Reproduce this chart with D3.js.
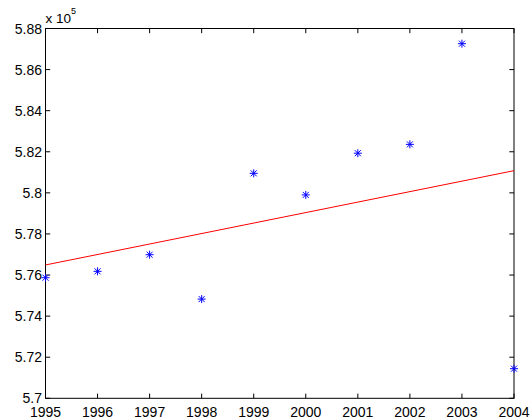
<!DOCTYPE html>
<html>
<head>
<meta charset="utf-8">
<script src="https://cdn.jsdelivr.net/npm/d3@7"></script>
<style>
  html, body { margin: 0; padding: 0; background: #fff; }
  svg { display: block; font-family: "Liberation Sans", Arial, Helvetica, sans-serif; }
</style>
</head>
<body>
<svg id="chart" width="531" height="419"></svg>
<script>
// ---- data ----
const years = [1995, 1996, 1997, 1998, 1999, 2000, 2001, 2002, 2003, 2004];
const values = [575870, 576180, 576990, 574830, 580950, 579900, 581930, 582360, 587260, 571440];
const trendYears = [1995, 2004];
const trendValues = [576490, 581080];
const xTicks = [1995, 1996, 1997, 1998, 1999, 2000, 2001, 2002, 2003, 2004];
const yTicks = [5.70, 5.72, 5.74, 5.76, 5.78, 5.80, 5.82, 5.84, 5.86, 5.88];
const yTickLabels = ["5.7", "5.72", "5.74", "5.76", "5.78", "5.8", "5.82", "5.84", "5.86", "5.88"];
const exponent = 5;

// ---- layout ----
const plotL = 45.5, plotR = 514, plotT = 28.5, plotB = 398.3;
const svg = d3.select("#chart");

const x = d3.scaleLinear().domain([1995, 2004]).range([plotL, plotR]);
const y = d3.scaleLinear().domain([5.70, 5.88]).range([plotB, plotT]);
const scale = Math.pow(10, exponent);

const tickLen = 4.7;

// box
svg.append("rect")
  .attr("x", plotL).attr("y", plotT)
  .attr("width", plotR - plotL).attr("height", plotB - plotT)
  .attr("fill", "none").attr("stroke", "#000").attr("stroke-width", 1);

// x ticks (bottom & top, inward)
const gx = svg.append("g");
xTicks.forEach(t => {
  const px = x(t);
  gx.append("line").attr("x1", px).attr("x2", px).attr("y1", plotB).attr("y2", plotB - tickLen).attr("stroke", "#000");
  gx.append("line").attr("x1", px).attr("x2", px).attr("y1", plotT).attr("y2", plotT + tickLen).attr("stroke", "#000");
  gx.append("text").attr("x", px).attr("y", 417).attr("text-anchor", "middle")
    .attr("font-size", 14).text(String(t));
});

// y ticks (left & right, inward)
const gy = svg.append("g");
yTicks.forEach((t, i) => {
  const py = y(t);
  gy.append("line").attr("x1", plotL).attr("x2", plotL + tickLen).attr("y1", py).attr("y2", py).attr("stroke", "#000");
  gy.append("line").attr("x1", plotR).attr("x2", plotR - tickLen).attr("y1", py).attr("y2", py).attr("stroke", "#000");
  gy.append("text").attr("x", plotL - 3.5).attr("y", py + 5).attr("text-anchor", "end")
    .attr("font-size", 14).text(yTickLabels[i]);
});

// exponent label
const ex = svg.append("text").attr("x", 45.5).attr("y", 22.7).attr("font-size", 13.5);
ex.append("tspan").text("x 10");
ex.append("tspan").attr("dy", -9).attr("font-size", 9).text(String(exponent));

// trend line
const line = d3.line().x(d => x(d[0])).y(d => y(d[1] / scale));
svg.append("path")
  .datum(trendYears.map((t, i) => [t, trendValues[i]]))
  .attr("d", line)
  .attr("fill", "none").attr("stroke", "#ff0000").attr("stroke-width", 1);

// asterisk markers
const r = 4;
const gm = svg.append("g").attr("stroke", "#0000ff").attr("stroke-width", 1).attr("fill", "none");
years.forEach((t, i) => {
  const px = x(t), py = y(values[i] / scale);
  const g = gm.append("g").attr("transform", `translate(${px},${py})`);
  g.append("line").attr("x1", -r).attr("x2", r).attr("y1", 0).attr("y2", 0);
  g.append("line").attr("x1", 0).attr("x2", 0).attr("y1", -r).attr("y2", r);
  const d = r * 0.75;
  g.append("line").attr("x1", -d).attr("x2", d).attr("y1", -d).attr("y2", d);
  g.append("line").attr("x1", -d).attr("x2", d).attr("y1", d).attr("y2", -d);
});
</script>
</body>
</html>
